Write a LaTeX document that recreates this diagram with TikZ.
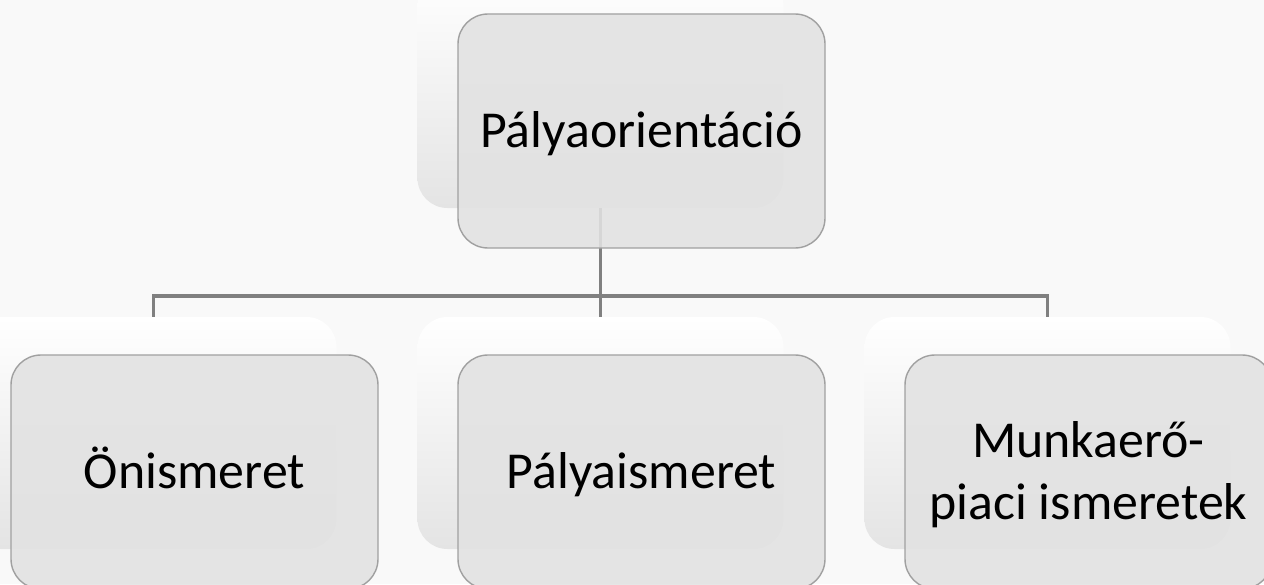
\documentclass[tikz,border=0pt]{standalone}
\usepackage{fontspec}
\setmainfont{Carlito}
\usepackage{tikz}
\usetikzlibrary{positioning}
\usepackage{xcolor}

\definecolor{boxfill}{RGB}{226,226,226}
\definecolor{boxline}{RGB}{160,160,160}
\definecolor{linkgray}{RGB}{128,128,128}
\definecolor{cardgray}{RGB}{228,228,228}
\definecolor{bggray}{RGB}{249,249,249}

\begin{document}
\begin{tikzpicture}[
  box/.style={draw=boxline, line width=0.8pt, fill=boxfill, fill opacity=0.88, text opacity=1,
    rounded corners=0.6cm, minimum width=7.34cm, minimum height=4.68cm,
    text height=0.9cm, text depth=0.24cm,
    align=center, font=\fontsize{29.5}{35.3}\selectfont},
  card/.style={rounded corners=0.6cm, top color=white, bottom color=cardgray,
    minimum width=7.32cm, minimum height=4.64cm},
  link/.style={draw=linkgray, line width=2.1pt}
]
\useasboundingbox (0,0) rectangle (25.28,11.68);
\fill[bggray] (0,0) rectangle (25.28,11.68);
\clip (0,0) rectangle (25.28,11.68);

% back cards
\node[card] (topcard) at (12.01,9.84) {};
\node[card] (onecard) at (3.07,3.02) {};
\node[card] (twocard) at (12.01,3.02) {};
\node[card] (threecard) at (20.95,3.02) {};

% connectors
\coordinate (bus) at (12.01,5.76);
\draw[link] (topcard.south)--(bus);
\draw[link] (bus)-|(onecard.north);
\draw[link] (bus)--(twocard.north);
\draw[link] (bus)-|(threecard.north);

% boxes
\node[box] (orient) at (12.83,9.06) {Pályaorientáció};
\node[box] (self) at (3.89,2.24) {Önismeret};
\node[box] (career) at (12.83,2.24) {Pályaismeret};
\node[box, text height=2.14cm] (market) at (21.77,2.24) {Munkaerő-\\piaci ismeretek};

\end{tikzpicture}
\end{document}
